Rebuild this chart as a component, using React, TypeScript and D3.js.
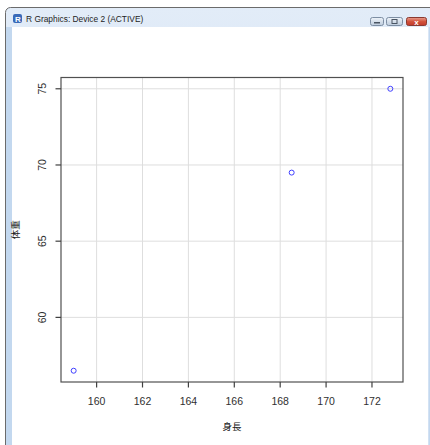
import React from "react";
import * as d3 from "d3";

const heights = [159.0, 168.5, 172.8];
const weights = [56.5, 69.5, 75.0];
const xTicks = [160, 162, 164, 166, 168, 170, 172];
const yTicks = [60, 65, 70, 75];
const xLabel = "身長";
const yLabel = "体重";
const windowTitle = "R Graphics: Device 2 (ACTIVE)";

const W = 430;
const H = 445;
const plot = { left: 61, right: 403, top: 77.5, bottom: 382 };

function rExtend(vals: number[]): [number, number] {
  const [a, b] = d3.extent(vals) as [number, number];
  const d = (b - a) * 0.04;
  return [a - d, b + d];
}

export default function App() {
  const x = d3.scaleLinear().domain(rExtend(heights)).range([plot.left, plot.right]);
  const y = d3.scaleLinear().domain(rExtend(weights)).range([plot.bottom, plot.top]);
  const font = "'Liberation Sans', Arial, sans-serif";
  const cjk = "'Noto Sans CJK JP', sans-serif";
  return (
    <svg width={W} height={H} style={{ position: "absolute", left: 0, top: 0 }}>
      <defs>
        <linearGradient id="tb" x1="0" y1="0" x2="0" y2="1">
          <stop offset="0" stopColor="#e2ecf8" />
          <stop offset="1" stopColor="#c0d5ee" />
        </linearGradient>
        <linearGradient id="btn" x1="0" y1="0" x2="0" y2="1">
          <stop offset="0" stopColor="#eef3f9" />
          <stop offset="1" stopColor="#bccbdc" />
        </linearGradient>
        <linearGradient id="cls" x1="0" y1="0" x2="0" y2="1">
          <stop offset="0" stopColor="#e8a091" />
          <stop offset="0.5" stopColor="#d2533c" />
          <stop offset="1" stopColor="#c0392b" />
        </linearGradient>
      </defs>
      <rect x={0} y={0} width={W} height={H} fill="#ffffff" />
      {/* window frame */}
      <rect x={5.5} y={7.5} width={440} height={460} rx={5} fill="url(#tb)" stroke="#6b6b6b" />
      <rect x={6} y={27} width={6} height={H} fill="#c3d8ef" />
      <rect x={12} y={27} width={416.5} height={H} fill="#ffffff" />
      <rect x={428.5} y={27} width={2} height={H} fill="#c3d8ef" />
      {/* title bar */}
      <rect x={13} y={14} width={9} height={9} rx={2} fill="#3a6ab8" />
      <text x={15} y={22} fontSize={8} fontWeight="bold" fill="#ffffff" fontFamily={font}>R</text>
      <text x={26} y={21.5} fontSize={8.4} fill="#1e1e1e" fontFamily={font}>{windowTitle}</text>
      <rect x={370.5} y={17.5} width={13} height={8} rx={2} fill="url(#btn)" stroke="#7d8ea3" />
      <rect x={374} y={22} width={6} height={1.5} fill="#4a5563" />
      <rect x={386.5} y={17.5} width={16} height={8} rx={2} fill="url(#btn)" stroke="#7d8ea3" />
      <rect x={392} y={19.5} width={5} height={4} fill="none" stroke="#4a5563" strokeWidth={1} />
      <rect x={406.5} y={17.5} width={20} height={8} rx={2} fill="url(#cls)" stroke="#8a3a30" />
      <text x={416.5} y={24.5} fontSize={8} fontWeight="bold" textAnchor="middle" fill="#ffffff" fontFamily={font}>x</text>
      {/* grid */}
      {xTicks.map((t) => (
        <line key={"gx" + t} x1={x(t)} x2={x(t)} y1={plot.top} y2={plot.bottom} stroke="#dedede" strokeWidth={1} />
      ))}
      {yTicks.map((t) => (
        <line key={"gy" + t} x1={plot.left} x2={plot.right} y1={y(t)} y2={y(t)} stroke="#dedede" strokeWidth={1} />
      ))}
      {/* points */}
      {heights.map((h, i) => (
        <circle key={"p" + i} cx={x(h)} cy={y(weights[i])} r={2.5} fill="none" stroke="#4040ff" strokeWidth={1} />
      ))}
      {/* box */}
      <rect x={plot.left} y={plot.top} width={plot.right - plot.left} height={plot.bottom - plot.top} fill="none" stroke="#505050" strokeWidth={1.2} />
      {/* x axis */}
      {xTicks.map((t) => (
        <g key={"xt" + t}>
          <line x1={x(t)} x2={x(t)} y1={plot.bottom} y2={plot.bottom + 5.5} stroke="#404040" strokeWidth={1.2} />
          <text x={x(t)} y={405} fontSize={10.5} textAnchor="middle" fill="#303030" fontFamily={font}>{t}</text>
        </g>
      ))}
      {/* y axis */}
      {yTicks.map((t) => (
        <g key={"yt" + t}>
          <line x1={plot.left - 5.5} x2={plot.left} y1={y(t)} y2={y(t)} stroke="#404040" strokeWidth={1.2} />
          <text transform={`translate(46,${y(t)}) rotate(-90)`} fontSize={10.5} textAnchor="middle" fill="#303030" fontFamily={font}>{t}</text>
        </g>
      ))}
      <text x={(plot.left + plot.right) / 2} y={430} fontSize={9.5} textAnchor="middle" fill="#202020" fontFamily={cjk}>{xLabel}</text>
      <text transform={`translate(19,${(plot.top + plot.bottom) / 2}) rotate(-90)`} fontSize={9.5} textAnchor="middle" fill="#202020" fontFamily={cjk}>{yLabel}</text>
    </svg>
  );
}
